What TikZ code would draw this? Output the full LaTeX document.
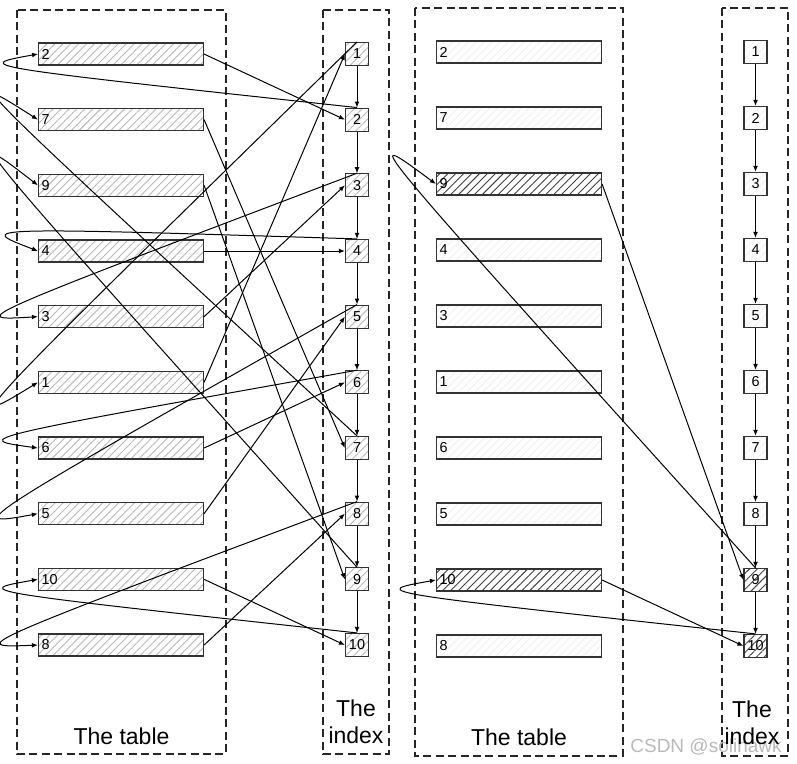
\documentclass[tikz,border=0pt]{standalone}
\usepackage{fontspec}
\setmainfont{Liberation Sans}
\usetikzlibrary{arrows.meta,patterns.meta}

\tikzset{
  rowbox/.style={draw=black!80,line width=0.6pt,preaction={fill=white},
    pattern={Lines[angle=45,distance=2.8pt,line width=0.45pt]},pattern color=#1,
    minimum height=11pt,text width=79.5pt,inner xsep=1.5pt,inner ysep=0pt,
    align=left,font=\fontsize{7.2}{8}\selectfont},
  rowbox/.default=gray!55,
  keybox/.style={draw=black!80,line width=0.6pt,preaction={fill=white},
    pattern={Lines[angle=45,distance=2.8pt,line width=0.45pt]},pattern color=#1,
    minimum size=11.5pt,inner sep=0pt,font=\fontsize{7.2}{8}\selectfont},
  keybox/.default=gray!55,
  area/.style={draw=black!85,line width=0.65pt,dash pattern=on 4pt off 2.2pt},
  link/.style={line width=0.5pt,-{Latex[length=3pt,width=2.4pt]}},
  caption/.style={font=\fontsize{11.5}{13.5}\selectfont,align=center,inner sep=0pt}
}

\begin{document}
\begin{tikzpicture}[x=0.5pt,y=-0.5pt]
    \useasboundingbox (0,0) rectangle (797,764);
    \clip (0,0) rectangle (797,764);
    %% Frames
    \draw[area] (17,10) rectangle (226,754);
    \draw[area] (323,10) rectangle (389,754);
    \draw[area] (415,8) rectangle (623,756);
    \draw[area] (722,8) rectangle (788,756);
    %% Table rows
    \foreach \v/\c [count=\k from 0] in {2/gray!12,7/gray!12,9/black!75,4/gray!12,3/gray!12,
        1/gray!12,6/gray!12,5/gray!12,10/black!75,8/gray!12} {
        \node[rowbox] (lt\v) at (121,{54+65.67*\k}) {\v};
        \node[rowbox=\c] (rt\v) at (519,{52+66*\k}) {\v};
    }
    %% Index entries
    \foreach \v/\c in {1/gray!12,2/gray!12,3/gray!12,4/gray!12,5/gray!12,
        6/gray!12,7/gray!12,8/gray!12,9/black!75,10/black!75} {
        \node[keybox] (li\v) at (357,{54+65.67*(\v-1)}) {\v};
        \node[keybox=\c] (ri\v) at (755.5,{52+66*(\v-1)}) {\v};
    }
    %% Index order
    \foreach \v in {1,...,9} {
        \pgfmathtruncatemacro\w{\v+1}
        \draw[link] (li\v) -- (li\w);
        \draw[link] (ri\v) -- (ri\w);
    }
    %% Rows to index
    \foreach \v in {1,...,10}
        \draw[link] (lt\v.east) -- (li\v.west);
    \draw[link] (rt9.east) -- (ri9.west);
    \draw[link] (rt10.east) -- (ri10.west);
    %% Index back to rows
    \foreach \v/\cx/\cy in {2/-28/66,7/-40/70,9/-40/125,4/-25/227,3/-33/321,
        1/-40/430,6/-29/439,5/-36/527,10/-29/591,8/-33/648}
        \draw[link] (li\v.north) .. controls (\cx,\cy) .. (lt\v.west);
    \draw[link] (ri9.north) .. controls (356,125) .. (rt9.west);
    \draw[link] (ri10.north) .. controls (368,592) .. (rt10.west);
    %% Captions
    \node[caption,anchor=base] (tab1) at (121.5,744) {The table};
    \node[caption,anchor=base] (tab2) at (519,745) {The table};
    \node[anchor=base,inner sep=0pt,text=gray!55,font=\fontsize{9.5}{10}\selectfont] (mark) at (706,752) {CSDN @solihawk};
    \node[caption] (idx1) at (356,722) {The\\index};
    \node[caption] (idx2) at (752,722.5) {The\\index};
\end{tikzpicture}
\end{document}
